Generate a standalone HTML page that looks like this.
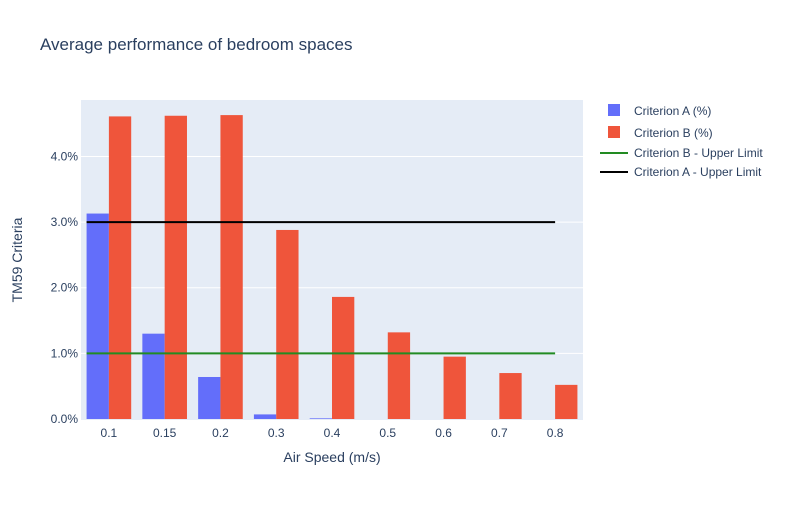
<!DOCTYPE html>
<html><head><meta charset="utf-8"><style>
body{margin:0;background:#fff;font-family:"Liberation Sans",Arial,sans-serif}
svg text{font-family:"Liberation Sans",Arial,sans-serif;fill:#2a3f5f}
</style></head><body>
<svg id="c" width="800" height="500">
<rect width="800" height="500" fill="#fff"/>
<text x="40" y="50" font-size="17">Average performance of bedroom spaces</text>
<rect x="81" y="100" width="502" height="320" fill="#e5ecf6"/>
<g id="grid"></g><g id="bars"></g><g id="lines"></g><g id="ticks"></g>
<text x="332" y="462" font-size="14" text-anchor="middle">Air Speed (m/s)</text>
<text transform="translate(22,260) rotate(-90)" font-size="14" text-anchor="middle">TM59 Criteria</text>
<g>
<g><rect x="608" y="104" width="12" height="12" fill="#636efa"/><text x="634" y="115" font-size="12">Criterion A (%)</text></g>
<g><rect x="608" y="126" width="12" height="12" fill="#ef553b"/><text x="634" y="137" font-size="12">Criterion B (%)</text></g>
<g><line x1="600" y1="153" x2="628" y2="153" stroke="#228b22" stroke-width="2"/><text x="634" y="157" font-size="12">Criterion B - Upper Limit</text></g>
<g><line x1="600" y1="172" x2="628" y2="172" stroke="#000" stroke-width="2"/><text x="634" y="176" font-size="12">Criterion A - Upper Limit</text></g>
</g>
</svg>
<script>
const categories=["0.1","0.15","0.2","0.3","0.4","0.5","0.6","0.7","0.8"];
const seriesA=[3.13,1.30,0.64,0.07,0.01,0,0,0,0];
const seriesB=[4.61,4.62,4.63,2.88,1.86,1.32,0.95,0.70,0.52];
const limitA=3.0;
const limitB=1.0;
const yTicks=[0,1,2,3,4];
const NS="http://www.w3.org/2000/svg";
const L=81,R=583,T=100,B=419,YMAX=4.86;
const step=(R-L)/categories.length;
const xc=i=>L+step*(i+0.5);
const y=v=>B-(v/YMAX)*(B-T);
function mk(tag,attrs,parent){const e=document.createElementNS(NS,tag);for(const k in attrs)e.setAttribute(k,attrs[k]);document.getElementById(parent).appendChild(e);return e;}
yTicks.forEach(t=>{
 if(t>0){const g=mk('line',{x1:L,x2:R,y1:y(t),y2:y(t),stroke:'#fff','stroke-width':1},'grid');
 
 }
 const tx=mk('text',{x:L-3,y:y(t)+4,'font-size':12,'text-anchor':'end'},'ticks');tx.textContent=t.toFixed(1)+'%';
 
 
});
const bw=step*0.4;
categories.forEach((c,i)=>{
 const a=mk('rect',{x:xc(i)-bw,y:y(seriesA[i]),width:bw,height:B-y(seriesA[i]),fill:'#636efa'},'bars');
 
 
 const b=mk('rect',{x:xc(i),y:y(seriesB[i]),width:bw,height:B-y(seriesB[i]),fill:'#ef553b'},'bars');
 
 
 const tx=mk('text',{x:xc(i),y:B+18,'font-size':12,'text-anchor':'middle'},'ticks');tx.textContent=c;
 
 
});
const x0=xc(0)-bw,x1=xc(categories.length-1);
const lb=mk('line',{x1:x0,x2:x1,y1:y(limitB),y2:y(limitB),stroke:'#228b22','stroke-width':2},'lines');


const la=mk('line',{x1:x0,x2:x1,y1:y(limitA),y2:y(limitA),stroke:'#000','stroke-width':2},'lines');


</script>
</body></html>
